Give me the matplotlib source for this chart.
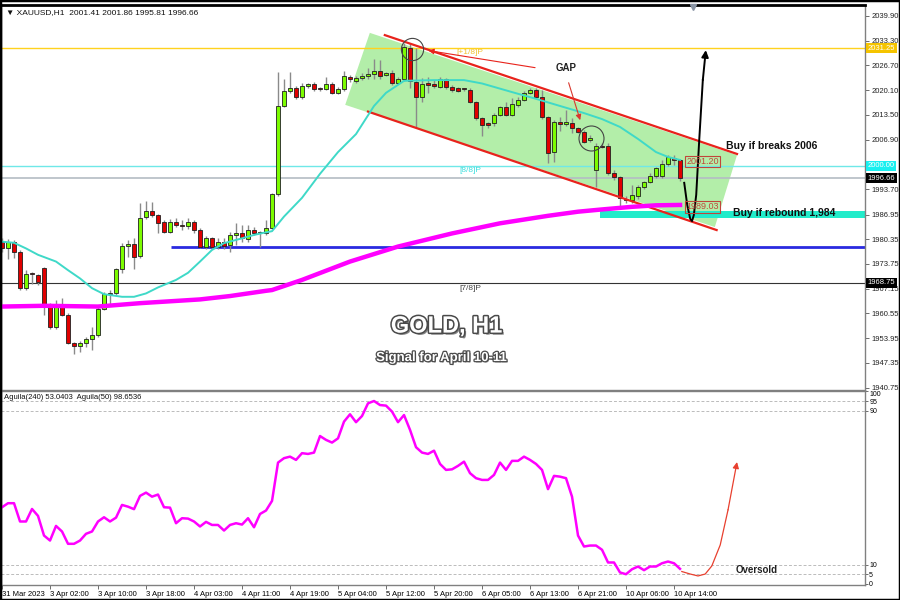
import matplotlib
matplotlib.use('Agg')
import matplotlib.pyplot as plt
import matplotlib.patheffects as pe
from matplotlib.patches import Polygon, Rectangle

plt.rcParams['font.family'] = ['Liberation Sans', 'DejaVu Sans']

# ---- hourly candles XAUUSD ----
opens = [1979.7, 1977.9, 1979.7, 1977.0, 1967.4, 1971.1, 1970.8, 1972.6, 1962.6, 1957.0,
         1962.4, 1960.2, 1952.6, 1951.9, 1952.6, 1953.7, 1954.8, 1961.8, 1965.7, 1966.1,
         1972.3, 1978.6, 1979.0, 1975.8, 1986.2, 1988.0, 1986.8, 1985.0, 1982.4, 1984.9,
         1983.9, 1984.0, 1984.9, 1982.8, 1978.4, 1980.6, 1978.2, 1979.7, 1978.8, 1981.5,
         1982.1, 1980.4, 1982.8, 1982.1, 1981.9, 1983.4, 1992.4, 2016.0, 2020.0, 2020.6,
         2018.4, 2021.2, 2021.8, 2020.5, 2020.4, 2021.7, 2019.4, 2020.3, 2023.7, 2022.6,
         2023.3, 2023.9, 2024.4, 2025.2, 2024.2, 2024.6, 2022.1, 2023.0, 2031.4, 2022.4,
         2018.4, 2021.7, 2021.7, 2020.9, 2023.0, 2021.0, 2020.6, 2020.4, 2020.2, 2017.0,
         2012.6, 2011.3, 2011.3, 2013.5, 2015.5, 2013.5, 2016.2, 2017.5, 2019.4, 2020.2,
         2018.2, 2012.9, 2003.5, 2011.7, 2011.1, 2011.4, 2009.9, 2009.0, 2006.8, 1998.8,
         2005.2, 2005.2, 1998.1, 1996.9, 1990.9, 1990.8, 1991.9, 1994.2, 1995.7, 1997.2,
         1997.3, 2000.4, 2001.9, 2001.41]
highs = [1980.7, 1980.4, 1980.2, 1977.5, 1972.2, 1971.7, 1971.2, 1973.0, 1963.4, 1964.2,
         1964.6, 1960.6, 1953.0, 1953.2, 1954.4, 1957.0, 1962.2, 1966.4, 1966.8, 1972.6,
         1979.3, 1980.1, 1980.6, 1990.1, 1990.6, 1990.3, 1987.2, 1985.5, 1985.8, 1986.0,
         1985.5, 1986.0, 1985.6, 1983.3, 1981.2, 1981.0, 1980.6, 1980.6, 1982.4, 1984.6,
         1984.2, 1984.2, 1983.6, 1982.6, 1985.5, 1992.8, 2025.0, 2023.0, 2025.0, 2021.2,
         2021.9, 2022.1, 2022.2, 2021.0, 2023.5, 2022.3, 2021.0, 2025.3, 2024.2, 2023.8,
         2024.8, 2025.9, 2028.4, 2028.2, 2025.0, 2025.5, 2023.7, 2032.6, 2032.7, 2031.3,
         2023.3, 2023.7, 2022.8, 2023.7, 2023.4, 2021.5, 2020.9, 2020.8, 2020.6, 2017.3,
         2013.0, 2011.7, 2013.9, 2015.9, 2017.0, 2017.9, 2018.4, 2019.8, 2020.6, 2020.6,
         2020.2, 2013.2, 2012.1, 2013.0, 2014.8, 2012.7, 2010.3, 2009.4, 2008.2, 2006.0,
         2006.0, 2006.0, 1998.8, 1997.3, 1991.9, 1994.8, 1994.8, 1996.0, 1997.9, 1999.7,
         2001.5, 2002.8, 2002.8, 2001.86]
lows = [1977.0, 1975.0, 1975.4, 1966.8, 1966.8, 1968.4, 1968.2, 1960.2, 1956.5, 1956.5,
        1959.8, 1952.3, 1949.8, 1950.4, 1951.7, 1950.8, 1954.3, 1961.5, 1963.1, 1965.6,
        1971.4, 1975.7, 1972.3, 1975.3, 1985.8, 1986.3, 1981.9, 1981.9, 1981.9, 1983.6,
        1982.8, 1983.2, 1982.1, 1978.0, 1977.8, 1977.7, 1977.8, 1977.8, 1977.0, 1978.8,
        1979.6, 1979.7, 1981.6, 1978.4, 1981.4, 1983.0, 1992.0, 2015.5, 2019.4, 2017.7,
        2017.7, 2020.6, 2020.0, 2020.0, 2020.1, 2019.0, 2019.0, 2019.9, 2022.4, 2021.9,
        2022.8, 2023.0, 2023.0, 2023.0, 2023.8, 2021.5, 2021.8, 2022.6, 2020.6, 2010.3,
        2017.0, 2019.3, 2020.6, 2020.6, 2020.4, 2019.7, 2019.7, 2019.8, 2016.7, 2012.2,
        2007.9, 2009.9, 2010.6, 2013.1, 2013.1, 2013.1, 2015.7, 2017.2, 2019.0, 2017.9,
        2012.5, 2000.7, 2000.9, 2009.3, 2010.6, 2008.7, 2008.6, 2006.0, 2006.3, 1994.4,
        2004.6, 1997.5, 1996.2, 1989.0, 1989.9, 1989.9, 1991.0, 1993.8, 1995.3, 1996.6,
        1996.8, 2000.0, 2000.2, 1995.81]
closes = [1977.9, 1979.7, 1977.0, 1967.3, 1971.1, 1971.0, 1969.0, 1962.4, 1957.0, 1962.4,
          1960.2, 1952.6, 1951.9, 1952.6, 1953.7, 1954.8, 1961.8, 1965.7, 1966.1, 1972.3,
          1978.6, 1979.0, 1975.7, 1985.9, 1988.0, 1986.8, 1984.6, 1982.4, 1985.0, 1984.2,
          1983.8, 1984.9, 1982.8, 1978.4, 1980.8, 1978.2, 1979.7, 1978.6, 1981.5, 1982.1,
          1980.6, 1982.8, 1982.1, 1982.2, 1983.4, 1992.4, 2016.0, 2020.0, 2020.6, 2018.4,
          2021.2, 2021.8, 2020.4, 2020.4, 2021.7, 2019.4, 2020.3, 2023.9, 2023.0, 2023.3,
          2024.0, 2024.4, 2025.3, 2024.0, 2024.8, 2022.1, 2023.0, 2031.7, 2022.6, 2018.4,
          2021.7, 2021.6, 2021.2, 2023.0, 2020.9, 2020.2, 2020.0, 2020.3, 2017.0, 2012.6,
          2010.8, 2010.8, 2013.5, 2015.5, 2013.5, 2016.4, 2017.5, 2019.4, 2020.2, 2018.2,
          2012.9, 2003.3, 2011.7, 2011.1, 2011.7, 2009.9, 2009.0, 2006.4, 2007.4, 2005.2,
          2005.0, 1998.1, 1996.9, 1991.3, 1990.8, 1992.2, 1994.4, 1995.7, 1997.2, 1999.3,
          2000.4, 2002.2, 2001.6, 1996.66]

# moving averages, read at a few bars
ma_fast_idx = [0, 2, 4, 6, 9, 11, 13, 15, 17, 20, 22, 24, 26, 29, 31, 33, 35, 37, 40, 42, 44,
               45, 47, 50, 53, 56, 59, 62, 64, 67, 72, 77, 80, 85, 89, 93, 97, 100, 103, 106,
               109, 111, 113]
ma_fast_val = [1979.7, 1979.4, 1977.9, 1976.2, 1974.4, 1972.1, 1969.9, 1967.3, 1965.7, 1965.0,
               1965.0, 1965.9, 1967.5, 1969.5, 1971.4, 1974.4, 1977.5, 1979.3, 1980.6, 1981.5,
               1982.2, 1982.5, 1986.4, 1991.4, 1997.8, 2003.6, 2008.4, 2015.9, 2019.4, 2022.6,
               2022.8, 2022.8, 2021.9, 2019.6, 2017.8, 2015.9, 2014.0, 2012.4, 2010.3, 2007.1,
               2003.6, 2002.3, 2001.5]
ma_slow_idx = [0, 7, 16, 23, 33, 38, 44, 45, 50, 58, 66, 75, 83, 91, 96, 100, 105, 109, 113]
ma_slow_val = [1962.4, 1962.6, 1962.4, 1963.3, 1964.3, 1965.2, 1966.6, 1966.8, 1969.5, 1974.4,
               1978.4, 1981.9, 1984.6, 1986.6, 1987.7, 1988.3, 1989.0, 1989.4, 1989.5]

# Aguila oscillator, one value per bar
aguila = [39.8, 41.9, 41.9, 32.4, 32.4, 38.9, 35.3, 25.1, 22.5, 30.1,
          27.2, 20.8, 20.8, 22.5, 26.0, 27.2, 32.4, 34.6, 32.4, 34.4,
          41.0, 40.1, 38.8, 45.7, 47.4, 45.3, 46.4, 39.8, 39.6, 31.5,
          34.1, 33.9, 32.4, 29.8, 32.2, 30.6, 30.6, 27.7, 30.6, 31.5,
          30.8, 34.1, 29.4, 36.3, 38.1, 43.1, 63.0, 65.3, 66.1, 64.4,
          67.9, 67.5, 68.2, 76.8, 74.8, 73.4, 75.6, 84.3, 88.1, 84.0,
          87.2, 93.8, 95.0, 92.9, 92.6, 89.5, 84.0, 87.7, 80.0, 71.0,
          68.2, 67.5, 69.2, 62.3, 59.2, 59.5, 61.3, 63.5, 57.5, 54.9,
          54.0, 54.0, 56.6, 63.0, 59.2, 63.9, 63.9, 66.1, 64.4, 62.3,
          59.2, 49.2, 56.1, 55.7, 54.9, 45.3, 25.1, 19.4, 19.9, 19.9,
          17.7, 11.1, 11.1, 5.9, 5.0, 7.6, 9.0, 7.1, 9.0, 9.0,
          10.7, 11.6, 10.7, 7.8]

time_ticks = [0, 8, 16, 24, 32, 40, 48, 56, 64, 72, 80, 88, 96, 104, 112]
time_labels = ["31 Mar 2023", "3 Apr 02:00", "3 Apr 10:00", "3 Apr 18:00", "4 Apr 03:00",
               "4 Apr 11:00", "4 Apr 19:00", "5 Apr 04:00", "5 Apr 12:00", "5 Apr 20:00",
               "6 Apr 05:00", "6 Apr 13:00", "6 Apr 21:00", "10 Apr 06:00", "10 Apr 14:00"]
price_ticks = [2039.90, 2033.30, 2026.70, 2020.10, 2013.50, 2006.90, 1993.70, 1986.95,
               1980.35, 1973.75, 1967.15, 1960.55, 1953.95, 1947.35, 1940.75]
osc_ticks = [100, 95, 90, 10, 5, 0]

# drawn objects (bar index, price)
channel_zone = [(57.2, 2016.2), (61.3, 2035.4), (122.5, 2002.8), (118.8, 1983.6)]
upper_line = ([63.8, 122.5], [2034.8, 2003.1])
lower_line = ([61.0, 119.1], [2014.4, 1982.8])
path_x = [113.7, 114.2, 114.7, 115.0, 115.3, 115.7, 116.2, 116.8]
path_y = [1995.4, 1989.5, 1985.8, 1985.2, 1986.8, 1992.2, 2006.8, 2022.8]
path_end = (117.3, 2030.8)
osc_arrow_x = [113.3, 114.7, 116.0, 117.2, 118.3, 119.7, 121.0]
osc_arrow_y = [6.4, 5.1, 4.1, 5.1, 9.3, 20.2, 38.4]
osc_arrow_end = (122.5, 63.3)

fig = plt.figure(figsize=(9, 6), dpi=100)
ax = fig.add_axes([1 / 900, 210 / 600, 864 / 900, 385 / 600])
ax2 = fig.add_axes([1 / 900, 15 / 600, 864 / 900, 194 / 600])

xmin, xmax = -0.17, 143.83
ax.set_xlim(xmin, xmax)
ax.set_ylim(1940.14, 2042.83)

# channel
ax.add_patch(Polygon(channel_zone, closed=True, fc='#a6eb9a', ec='none', alpha=0.85, zorder=1))
ax.plot(*upper_line, color='#e8231c', lw=1.6, zorder=5)
ax.plot(*lower_line, color='#e8231c', lw=1.6, zorder=5)

# horizontal levels
ax.axhline(2031.25, color='#ffd21f', lw=1, zorder=2)
ax.axhline(2000.00, color='#6fe8e8', lw=1, zorder=2)
ax.axhline(1996.66, color='#b4bcc4', lw=1.2, zorder=2)
ax.axhline(1968.75, color='#333333', lw=0.8, zorder=2)
ax.hlines(1978.3, 28.2, xmax, color='#2a2ae0', lw=2, zorder=2)
ax.add_patch(Rectangle((99.7, 1986.15), xmax - 99.7, 1.85, fc='#22ecca', ec='none', zorder=2))

# candles
idx = list(range(len(opens)))
ax.vlines(idx, lows, highs, color='#8a8a8a', lw=1, zorder=3)
bottoms = [min(o, c) for o, c in zip(opens, closes)]
heights = [max(abs(c - o), 0.3) for o, c in zip(opens, closes)]
colors = ['#7cfc00' if c >= o else '#e00000' for o, c in zip(opens, closes)]
ax.bar(idx, heights, bottom=bottoms, width=0.7, color=colors, edgecolor='#202020',
       linewidth=0.6, zorder=4)

# moving averages
ax.plot(ma_fast_idx, ma_fast_val, color='#3fd9c8', lw=1.4, zorder=5)
ax.plot(ma_slow_idx, ma_slow_val, color='#ff00ff', lw=3.2, zorder=5)

# markers / arrows
ax.plot([68.4], [2031.0], marker='o', ms=16, mfc='none', mec='#444444', mew=0.8, zorder=6)
ax.plot([98.2], [2007.4], marker='o', ms=18, mfc='none', mec='#444444', mew=0.8, zorder=6)
ax.annotate('', xy=(70.6, 2030.8), xytext=(89.3, 2026.0),
            arrowprops=dict(arrowstyle='-|>', color='#e8231c', lw=0.8, mutation_scale=8), zorder=6)
ax.annotate('', xy=(96.5, 2011.4), xytext=(94.3, 2022.8),
            arrowprops=dict(arrowstyle='-|>', color='#d9372e', lw=0.8, mutation_scale=8), zorder=6)
ax.plot(path_x, path_y, color='black', lw=1.4, zorder=6)
ax.annotate('', xy=path_end, xytext=(path_x[-1], path_y[-1]),
            arrowprops=dict(arrowstyle='-|>', color='black', lw=1.4, mutation_scale=10,
                            shrinkA=0, shrinkB=0), zorder=6)

# texts in the chart
ax.text(94.0, 2026.0, 'GAP', fontsize=7, fontweight='bold', color='#222222', ha='center', va='center')
ax.text(120.7, 2005.2, 'Buy if breaks 2006', fontsize=7.5, fontweight='bold', color='#111111',
        va='center')
ax.text(121.8, 1987.3, 'Buy if rebound 1,984', fontsize=7.5, fontweight='bold', color='#111111',
        va='center')
ax.text(75.8, 2030.2, '[+1/8]P', fontsize=6, color='#f2c230', va='center')
ax.text(76.2, 1998.6, '[8/8]P', fontsize=6, color='#3cdede', va='center')
ax.text(76.2, 1967.3, '[7/8]P', fontsize=6, color='#444444', va='center')
for yv, s in [(2001.1, '2001.20'), (1989.0, '1989.03')]:
    ax.text(116.8, yv, s, fontsize=6.5, color='#c0463a', ha='center', va='center',
            bbox=dict(boxstyle='square,pad=0.15', fc='none', ec='#c0463a', lw=0.8), zorder=7)

ax.text(0.006, 0.99, '\u25bc XAUUSD,H1  2001.41 2001.86 1995.81 1996.66', transform=ax.transAxes,
        fontsize=6, color='#111111', va='top')
effects = [pe.SimplePatchShadow(offset=(1.5, -1.5), shadow_rgbFace='#777777', alpha=0.9),
           pe.Stroke(linewidth=2.2, foreground='#4a4a4a'), pe.Normal()]
ax.text(0.516, 0.166, 'GOLD, H1', transform=ax.transAxes, fontsize=17, fontweight='bold',
        color='white', ha='center', va='center', path_effects=effects)
ax.text(0.510, 0.083, 'Signal for April 10-11', transform=ax.transAxes, fontsize=9.5,
        fontweight='bold', color='white', ha='center', va='center',
        path_effects=[pe.SimplePatchShadow(offset=(1, -1), shadow_rgbFace='#777777', alpha=0.9),
                      pe.Stroke(linewidth=1.8, foreground='#4a4a4a'), pe.Normal()])

# price axis
ax.yaxis.tick_right()
ax.set_yticks(price_ticks)
ax.set_yticklabels(['%.2f' % v for v in price_ticks])
ax.tick_params(axis='y', labelsize=5.5, length=3, width=0.6, color='#555555', pad=1.5,
               labelcolor='#222222')
ax.set_xticks([])
yaxis_tf = ax.get_yaxis_transform()
for yv, fc, tc in [(2031.25, '#f5c400', 'white'), (2000.00, '#19f0f0', 'white'),
                   (1996.66, 'black', 'white'), (1968.75, 'black', 'white')]:
    ax.text(1.003, yv, '%.2f' % yv, transform=yaxis_tf, fontsize=5.5, color=tc, va='center',
            ha='left', bbox=dict(boxstyle='square,pad=0.2', fc=fc, ec='none'), zorder=8,
            clip_on=False)
ax.plot([690.7 / 6], [2042.2], marker='v', ms=4, color='#8a95a5', clip_on=False, zorder=8)

# oscillator panel
ax2.set_xlim(xmin, xmax)
ax2.set_ylim(-0.6, 100.2)
for lv in [95, 90, 10, 5]:
    ax2.axhline(lv, color='#bbbbbb', lw=0.7, ls=(0, (3, 2)), zorder=1)
ax2.plot(idx, aguila, color='#ff00ff', lw=1.8, zorder=3)
ax2.plot(osc_arrow_x, osc_arrow_y, color='#e8402f', lw=0.9, zorder=4)
ax2.annotate('', xy=osc_arrow_end, xytext=(osc_arrow_x[-1], osc_arrow_y[-1]),
             arrowprops=dict(arrowstyle='-|>', color='#e8402f', lw=0.9, mutation_scale=9,
                             shrinkA=0, shrinkB=0), zorder=4)
ax2.text(122.2, 7.2, 'Oversold', fontsize=7, fontweight='bold', color='#222222', va='center')
ax2.text(0.004, 0.985, 'Aguila(240) 53.0403  Aguila(50) 98.6536', transform=ax2.transAxes,
         fontsize=5.5, color='#111111', va='top')
ax2.yaxis.tick_right()
ax2.set_yticks(osc_ticks)
ax2.set_yticklabels([str(v) for v in osc_ticks])
ax2.tick_params(axis='y', labelsize=5, length=2, width=0.6, color='#555555', pad=1)
ax2.get_yticklabels()[0].set_verticalalignment('top')
ax2.set_xticks(time_ticks)
ax2.set_xticklabels(time_labels)
ax2.tick_params(axis='x', labelsize=5.5, length=3, width=0.6, color='#555555', pad=1.5)
for lab in ax2.get_xticklabels():
    lab.set_horizontalalignment('left')

for a in (ax, ax2):
    for name, sp in a.spines.items():
        sp.set_color('#808080')
        sp.set_linewidth(1)
    a.spines['left'].set_color('black')
ax.spines['top'].set_color('black')
ax.spines['top'].set_linewidth(2)

fig.patches.append(Rectangle((0, 0), 1, 1, transform=fig.transFigure, fill=False,
                             ec='black', lw=2.5))

fig.savefig('out.png', dpi=100)
